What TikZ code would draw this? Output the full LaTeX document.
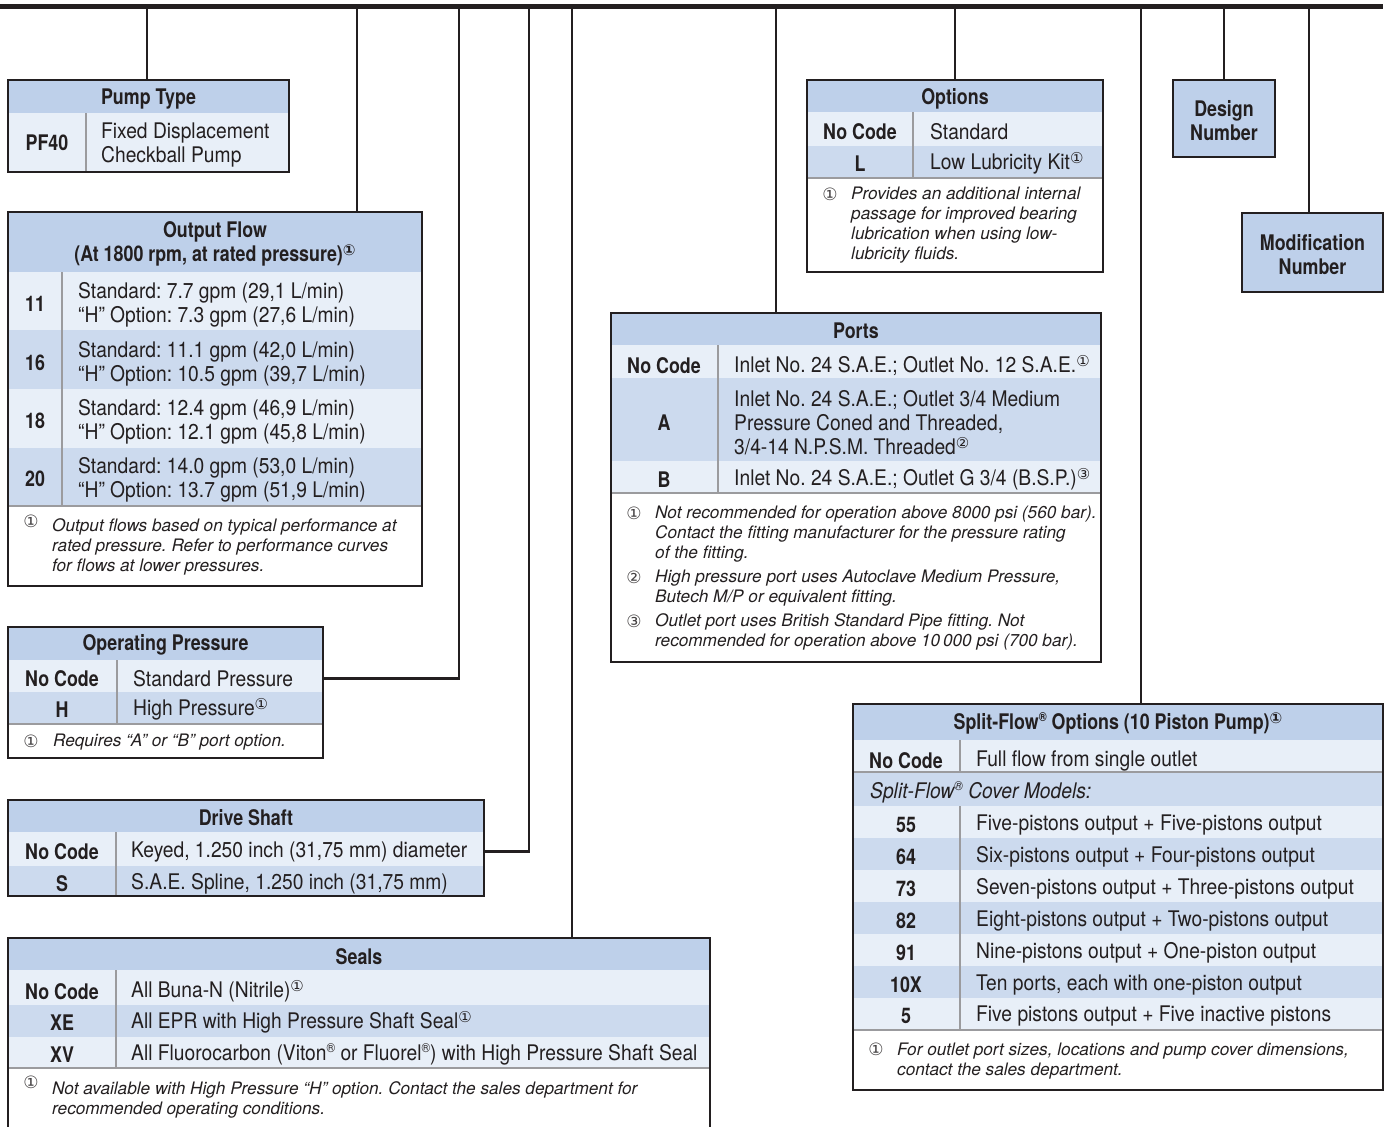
\documentclass[tikz,border=0pt]{standalone}
\usepackage{fontspec}
\newfontfamily\condfont{TeX Gyre Heros}[FakeStretch=0.895]
\newfontfamily\headfont{TeX Gyre Heros}[FakeStretch=0.83]
\newfontfamily\notefont{TeX Gyre Heros}
\newfontfamily\symfont{DejaVu Sans}
\frenchspacing

\definecolor{ink}{RGB}{35,31,32}
\definecolor{headbg}{RGB}{190,208,234}
\definecolor{rowa}{RGB}{232,239,248}
\definecolor{rowb}{RGB}{204,218,238}
\definecolor{rule}{RGB}{155,155,158}

\newcommand\cnote[1]{\raisebox{0.5ex}{\symfont\fontsize{15}{15}\selectfont #1}}
\newcommand\regd{\raisebox{0.7ex}{\fontsize{13}{13}\selectfont ®}}

\tikzset{
  frame/.style={draw=ink, line width=2.6pt, rectangle, inner sep=0pt, outer sep=0pt, anchor=north west},
  link/.style={draw=ink, line width=2.4pt},
  divider/.style={draw=rule, line width=1.6pt},
  head/.style={font=\headfont\bfseries\fontsize{21.5}{24}\selectfont, text=ink, align=center, inner sep=0pt, yshift=-2pt},
  code/.style={font=\headfont\bfseries\fontsize{21.5}{24}\selectfont, text=ink, inner sep=0pt, yshift=-1.5pt},
  desc/.style={font=\condfont\fontsize{21.5}{24}\selectfont, text=ink, anchor=west, align=left, inner sep=0pt, yshift=-1.5pt},
  note/.style={font=\notefont\itshape\fontsize{17.2}{20}\selectfont, text=ink, anchor=west, align=left, inner sep=0pt, yshift=-1pt},
  fnmk/.style={font=\symfont\fontsize{17}{17}\selectfont, text=ink!85, inner sep=0pt}
}

\begin{document}
\begin{tikzpicture}[x=1pt,y=-1pt]
\useasboundingbox (0,0) rectangle (1387,1127);

% row bands
\fill[headbg] (8,80) rectangle (289,113);
\fill[rowa] (8,113) rectangle (289,172);

\fill[headbg] (8,212) rectangle (422,272);
\foreach \ya/\yb/\col in {272/330/rowa,330/389/rowb,389/448/rowa,448/506/rowb}
  \fill[\col] (8,\ya) rectangle (422,\yb);

\fill[headbg] (8,627) rectangle (323,660);
\fill[rowa] (8,660) rectangle (323,692);
\fill[rowb] (8,692) rectangle (323,724);

\fill[headbg] (8,800) rectangle (484,832);
\fill[rowa] (8,832) rectangle (484,866);
\fill[rowb] (8,866) rectangle (484,896);

\fill[headbg] (8,938) rectangle (710,970);
\foreach \ya/\yb/\col in {970/1005/rowa,1005/1037/rowb,1037/1068/rowa}
  \fill[\col] (8,\ya) rectangle (710,\yb);

\fill[headbg] (611,313) rectangle (1101,345);
\foreach \ya/\yb/\col in {345/378/rowa,378/461/rowb,461/493/rowa}
  \fill[\col] (611,\ya) rectangle (1101,\yb);

\fill[headbg] (807,80) rectangle (1103,112);
\fill[rowa] (807,112) rectangle (1103,146);
\fill[rowb] (807,146) rectangle (1103,178);

\fill[headbg] (853,704) rectangle (1383,740);
\fill[rowa] (853,740) rectangle (1383,772);
\fill[rowb] (853,772) rectangle (1383,806);
\foreach \ya/\yb/\col in {806/838/rowa,838/870/rowb,870/902/rowa,902/934/rowb,934/966/rowa,966/998/rowb,998/1030/rowa}
  \fill[\col] (853,\ya) rectangle (1383,\yb);

% column and footnote rules
\draw[divider] (86,113) -- (86,172);
\draw[divider] (62,272) -- (62,506) (8,506) -- (422,506);
\draw[divider] (117,660) -- (117,724) (8,724) -- (323,724);
\draw[divider] (116,832) -- (116,896);
\draw[divider] (116,970) -- (116,1068) (8,1068) -- (710,1068);
\draw[divider] (718,345) -- (718,493) (611,493) -- (1101,493);
\draw[divider] (913,112) -- (913,178) (807,178) -- (1103,178);
\draw[divider] (960,740) -- (960,772) (853,772) -- (1383,772);
\draw[divider] (960,806) -- (960,1030) (853,1030) -- (1383,1030);

% boxes
\node[frame, minimum width=281pt, minimum height=92pt] (pumptype) at (8,80) {};
\node[frame, minimum width=414pt, minimum height=374pt] (outflow) at (8,212) {};
\node[frame, minimum width=315pt, minimum height=131pt] (oppress) at (8,627) {};
\node[frame, minimum width=476pt, minimum height=96pt] (shaft) at (8,800) {};
\node[frame, minimum width=702pt, minimum height=200pt] (seals) at (8,938) {};
\node[frame, minimum width=490pt, minimum height=349pt] (ports) at (611,313) {};
\node[frame, minimum width=296pt, minimum height=192pt] (options) at (807,80) {};
\node[frame, fill=headbg, minimum width=102pt, minimum height=77pt] (design) at (1173,80) {};
\node[frame, fill=headbg, minimum width=141pt, minimum height=79pt] (modif) at (1242,213) {};
\node[frame, minimum width=530pt, minimum height=386pt] (split) at (853,704) {};

% Pump Type
\node[head] at (148.5,97) {Pump Type};
\node[code] (ptpf) at (47,141) {PF40};
\node[desc] at (101,144) {Fixed Displacement\\Checkball Pump};

% Output Flow
\node[head] at (215,242) {Output Flow\\(At 1800 rpm, at rated pressure)\cnote{①}};
\node[code] (of11) at (35,302) {11};
\node[code] (of16) at (35,361) {16};
\node[code] (of18) at (35,419) {18};
\node[code] (of20) at (35,477) {20};
\node[desc] at (78,303) {Standard: 7.7 gpm (29,1 L/min)\\“H” Option: 7.3 gpm (27,6 L/min)};
\node[desc] at (78,362) {Standard: 11.1 gpm (42,0 L/min)\\“H” Option: 10.5 gpm (39,7 L/min)};
\node[desc] at (78,420) {Standard: 12.4 gpm (46,9 L/min)\\“H” Option: 12.1 gpm (45,8 L/min)};
\node[desc] at (78,478) {Standard: 14.0 gpm (53,0 L/min)\\“H” Option: 13.7 gpm (51,9 L/min)};
\node[fnmk] at (31,521) {①};
\node[note] at (52,546) {Output flows based on typical performance at\\rated pressure. Refer to performance curves\\for flows at lower pressures.};

% Operating Pressure
\node[head] at (165.5,643) {Operating Pressure};
\node[code] (opnc) at (62,677) {No Code};
\node[code] (oph) at (62,708) {H};
\node[desc] at (133,677) {Standard Pressure};
\node[desc] at (133,708) {High Pressure\cnote{①}};
\node[fnmk] at (31,741) {①};
\node[note] at (53,741) {Requires “A” or “B” port option.};

% Drive Shaft
\node[head] at (246,816) {Drive Shaft};
\node[code] (dsnc) at (62,850) {No Code};
\node[code] (dss) at (62,882) {S};
\node[desc] at (131,850) {Keyed, 1.250 inch (31,75 mm) diameter};
\node[desc] at (131,882) {S.A.E. Spline, 1.250 inch (31,75 mm)};

% Seals
\node[head] at (359,955) {Seals};
\node[code] (snc) at (62,990) {No Code};
\node[code] (sxe) at (62,1021) {XE};
\node[code] (sxv) at (62,1053) {XV};
\node[desc] at (131,990) {All Buna-N (Nitrile)\cnote{①}};
\node[desc] at (131,1021) {All EPR with High Pressure Shaft Seal\cnote{①}};
\node[desc] at (131,1053) {All Fluorocarbon (Viton\regd{} or Fluorel\regd) with High Pressure Shaft Seal};
\node[fnmk] at (31,1082) {①};
\node[note] at (52,1099) {Not available with High Pressure “H” option. Contact the sales department for\\recommended operating conditions.};

% Ports
\node[head] at (856,329) {Ports};
\node[code] (pnc) at (664,364) {No Code};
\node[code] (pa) at (664,421) {A};
\node[code] (pb) at (664,478) {B};
\node[desc] at (734,364) {Inlet No. 24 S.A.E.; Outlet No. 12 S.A.E.\cnote{①}};
\node[desc] at (734,421) {Inlet No. 24 S.A.E.; Outlet 3/4 Medium\\Pressure Coned and Threaded,\\3/4-14 N.P.S.M. Threaded\cnote{②}};
\node[desc] at (734,478) {Inlet No. 24 S.A.E.; Outlet G 3/4 (B.S.P.)\cnote{③}};
\node[fnmk] at (634,513) {①};
\node[fnmk] at (634,577) {②};
\node[fnmk] at (634,621) {③};
\node[note] at (655,533) {Not recommended for operation above 8000 psi (560 bar).\\Contact the fitting manufacturer for the pressure rating\\of the fitting.};
\node[note] at (655,587) {High pressure port uses Autoclave Medium Pressure,\\Butech M/P or equivalent fitting.};
\node[note] at (655,631) {Outlet port uses British Standard Pipe fitting. Not\\recommended for operation above 10\,000 psi (700 bar).};

% Options
\node[head] at (955,97) {Options};
\node[code] (onc) at (860,130) {No Code};
\node[code] (ol) at (860,162) {L};
\node[desc] at (930,130) {Standard};
\node[desc] at (930,162) {Low Lubricity Kit\cnote{①}};
\node[fnmk] at (830,194) {①};
\node[note] at (851,224) {Provides an additional internal\\passage for improved bearing\\lubrication when using low-\\lubricity fluids.};

% Design / Modification
\node[head] at (design.center) {Design\\Number};
\node[head] at (modif.center) {Modification\\Number};

% Split-Flow
\node[head] at (1118,721) {Split-Flow\regd{} Options (10 Piston Pump)\cnote{①}};
\node[code] (sfnc) at (906,759) {No Code};
\node[desc] at (976,759) {Full flow from single outlet};
\node[desc, font=\condfont\itshape\fontsize{21.5}{24}\selectfont] at (870,791) {Split-Flow\regd{} Cover Models:};
\foreach \y/\c/\t in {823/55/Five-pistons output + Five-pistons output,
    855/64/Six-pistons output + Four-pistons output,
    887/73/Seven-pistons output + Three-pistons output,
    919/82/Eight-pistons output + Two-pistons output,
    951/91/Nine-pistons output + One-piston output,
    983/10X/{Ten ports, each with one-piston output},
    1014/5/Five pistons output + Five inactive pistons} {
  \node[code] (sf\c) at (906,\y) {\c};
  \node[desc] at (976,\y) {\t};
}
\node[fnmk] at (876,1049) {①};
\node[note] at (897,1060) {For outlet port sizes, locations and pump cover dimensions,\\contact the sales department.};

% model code bar and connectors
\coordinate (barw) at (0,6.5);
\coordinate (bare) at (1383,6.5);
\draw[ink, line width=5pt] (barw) -- (bare);
\foreach \n/\x in {t1/147,t2/357,t3/459,t4/529,t5/572,t6/776,t7/955,t8/1141,t9/1224,t10/1309}
  \coordinate (\n) at (\x,6.5);
\draw[link] (t1) -- (t1 |- pumptype.north);
\draw[link] (t2) -- (t2 |- outflow.north);
\draw[link] (t3) |- (oppress.east |- opnc);
\draw[link] (t4) |- (shaft.east |- dsnc);
\draw[link] (t5) -- (t5 |- seals.north);
\draw[link] (t6) -- (t6 |- ports.north);
\draw[link] (t7) -- (t7 |- options.north);
\draw[link] (t8) -- (t8 |- split.north);
\draw[link] (t9) -- (t9 |- design.north);
\draw[link] (t10) -- (t10 |- modif.north);

\end{tikzpicture}
\end{document}
